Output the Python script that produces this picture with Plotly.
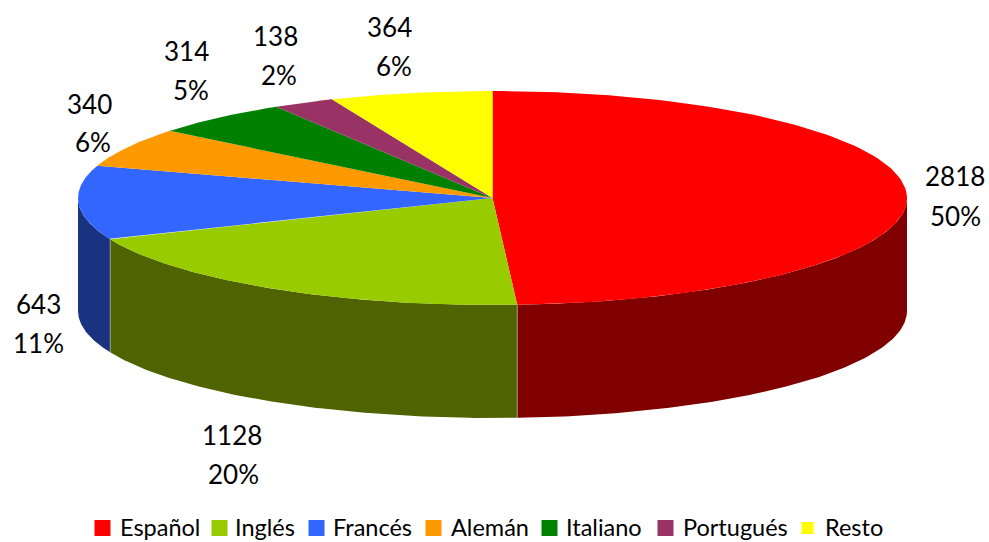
import numpy as np
import plotly.graph_objects as go

# Excel-style 3D pie: plotly's Pie can't tilt, so the slices are drawn as filled scatter
languages = ["Español", "Inglés", "Francés", "Alemán", "Italiano", "Portugués", "Resto"]
speakers = [2818, 1128, 643, 340, 314, 138, 364]
percent_labels = ["50%", "20%", "11%", "6%", "5%", "2%", "6%"]

top_colors = ["#FF0000", "#99CC00", "#3366FF", "#FF9900", "#008000", "#993366", "#FFFF00"]
wall_colors = ["#800000", "#4F6300", "#1A3380", "#804D00", "#004000", "#4D1A33", "#808000"]

# ellipse geometry, in page pixels
cx, cy = 492.5, 198
rx, ry = 414.5, 107
depth = 113

# label centres, page pixels
value_pos = [(955, 176), (232, 435), (38, 304), (89, 104), (186, 51), (275, 36), (389, 27)]
percent_pos = [(955, 216), (233, 474), (38, 343), (93, 142), (191, 90), (279, 75), (394, 66)]

# legend: swatch centre and text left edge
swatch_x = [102.5, 219.5, 316.5, 433.5, 549.5, 665.5, 807.5]
swatch_size = [17, 17, 17, 17, 17, 17, 13]
legend_text_x = [117.5, 233, 331, 449, 564, 681, 823]
legend_y = 526.5

FONT = "Lato, Carlito, sans-serif"


def rim(a0, a1, n=120):
    # clockwise from 12 o'clock, angles in radians
    t = np.linspace(a0, a1, n)
    return cx + rx * np.sin(t), cy - ry * np.cos(t)


fractions = np.array(speakers) / sum(speakers)
edges = np.concatenate([[0], np.cumsum(fractions)]) * 2 * np.pi

fig = go.Figure()

# side walls first, only the part facing the viewer (90 to 270 degrees)
joints = []
for i, name in enumerate(languages):
    a0 = max(edges[i], np.pi / 2)
    a1 = min(edges[i + 1], 3 * np.pi / 2)
    if a1 <= a0:
        continue
    x, y = rim(a0, a1)
    fig.add_trace(
        go.Scatter(
            x=np.concatenate([x, x[::-1]]),
            y=np.concatenate([y, y[::-1] + depth]),
            mode="lines",
            fill="toself",
            fillcolor=wall_colors[i],
            line=dict(width=0),
            hoverinfo="skip",
            showlegend=False,
        )
    )
    if a1 < 3 * np.pi / 2:
        joints.append((x[-1], y[-1]))

# thin light seams between the walls
for jx, jy in joints:
    fig.add_trace(
        go.Scatter(
            x=[jx, jx],
            y=[jy, jy + depth],
            mode="lines",
            line=dict(color="rgba(200,200,200,0.55)", width=1),
            hoverinfo="skip",
            showlegend=False,
        )
    )

# top faces
for i, name in enumerate(languages):
    x, y = rim(edges[i], edges[i + 1])
    fig.add_trace(
        go.Scatter(
            x=np.concatenate([[cx], x, [cx]]),
            y=np.concatenate([[cy], y, [cy]]),
            mode="lines",
            fill="toself",
            fillcolor=top_colors[i],
            line=dict(width=0),
            name=name,
            showlegend=False,
        )
    )

# legend swatches
fig.add_trace(
    go.Scatter(
        x=swatch_x,
        y=[528] * len(swatch_x),
        mode="markers",
        marker=dict(symbol="square", size=swatch_size, color=top_colors, opacity=1),
        hoverinfo="skip",
        showlegend=False,
    )
)

annotations = []
for i, name in enumerate(languages):
    annotations.append(
        dict(x=value_pos[i][0], y=value_pos[i][1], text=str(speakers[i]), font=dict(size=26))
    )
    annotations.append(
        dict(x=percent_pos[i][0], y=percent_pos[i][1], text=percent_labels[i], font=dict(size=26))
    )
    annotations.append(
        dict(x=legend_text_x[i], y=legend_y, text=name, xanchor="left", font=dict(size=23.5))
    )
for a in annotations:
    a.update(xref="x", yref="y", showarrow=False)
    a["font"].update(family=FONT, color="#000000")

fig.update_layout(
    width=989,
    height=542,
    margin=dict(l=0, r=0, t=0, b=0),
    paper_bgcolor="white",
    plot_bgcolor="white",
    xaxis=dict(range=[0, 989], visible=False, fixedrange=True),
    yaxis=dict(range=[542, 0], visible=False, fixedrange=True),
    annotations=annotations,
)

fig.write_html(
    "out.html",
    config=dict(displayModeBar=False),
    post_script="document.body.style.margin='0'",
)
